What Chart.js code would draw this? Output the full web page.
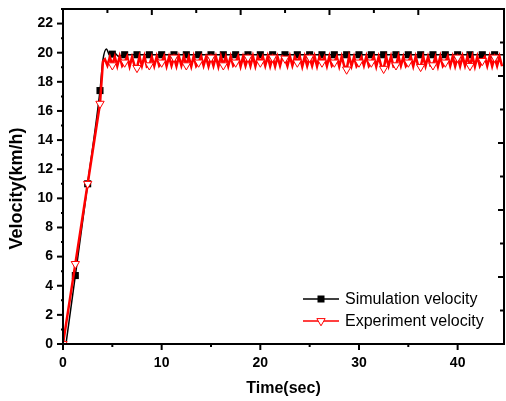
<!DOCTYPE html>
<html>
<head>
<meta charset="utf-8">
<script src="https://cdn.jsdelivr.net/npm/chart.js@4.4.1/dist/chart.umd.min.js"></script>
<style>
  html, body { margin: 0; padding: 0; background: #fff; }
  #wrap { width: 506px; height: 401px; }
</style>
</head>
<body>
<div id="wrap"><canvas id="velocityChart" width="506" height="401"></canvas></div>
<script>
// simulation velocity (km/h) vs time (sec)
const simTime = [0.3, 1.25, 2.5, 3.75, 4.05, 4.4, 4.75, 5, 5.3, 5.6, 6.25, 7.5, 8.75, 10, 11.25, 12.5,
  13.75, 15, 16.25, 17.5, 18.75, 20, 21.25, 22.5, 23.75, 25, 26.25, 27.5, 28.75, 30, 31.25, 32.5,
  33.75, 35, 36.25, 37.5, 38.75, 40, 41.25, 42.5, 43.75, 44.6];
const simVelocity = [0, 4.7, 11.0, 17.4, 19.5, 20.25, 19.8, 19.9, 19.95, 19.75, 19.86, 19.86, 19.86, 19.86, 19.86, 19.86,
  19.86, 19.86, 19.86, 19.86, 19.86, 19.86, 19.86, 19.86, 19.86, 19.86, 19.86, 19.86, 19.86, 19.86, 19.86, 19.86,
  19.86, 19.86, 19.86, 19.86, 19.86, 19.86, 19.86, 19.86, 19.86, 19.86];

// experiment velocity: ramp, then samples every 0.25 s from 4.25 s
const expRampTime = [0, 1.25, 2.5, 3.75, 4.05];
const expRampVelocity = [0, 5.5, 11.0, 16.5, 19.4];
const expStart = 4.25;
const expStep = 0.25;
const expPlateauVelocity = [
  19.55, 19.12, 19.7,
  19.14, 19.72, 19.08, 19.75, 19.1,
  19.33, 19.74, 19.06, 19.7, 19.12,
  18.96, 19.73, 19.1, 19.76, 19.05,
  19.14, 19.7, 19.09, 19.74, 19.11,
  19.33, 19.76, 19.07, 19.72, 19.1,
  19.67, 19.08, 19.75, 19.12, 19.73,
  19.14, 19.71, 19.06, 19.76, 19.09,
  19.33, 19.74, 19.11, 19.7, 19.07,
  19.67, 19.1, 19.73, 19.05, 19.75,
  19.14, 19.72, 19.08, 19.74, 19.12,
  19.33, 19.75, 19.06, 19.71, 19.1,
  19.67, 19.09, 19.76, 19.07, 19.72,
  19.33, 19.73, 19.11, 19.75, 19.08,
  19.67, 19.06, 19.72, 19.1, 19.74,
  19.6, 19.08, 19.76, 19.12, 19.7,
  19.33, 19.74, 19.05, 19.73, 19.09,
  19.67, 19.1, 19.75, 19.07, 19.72,
  19.33, 19.71, 19.08, 19.76, 19.11,
  19.33, 19.73, 19.06, 19.74, 19.1,
  18.85, 19.75, 19.09, 19.72, 19.07,
  19.33, 19.7, 19.12, 19.76, 19.08,
  19.33, 19.74, 19.05, 19.73, 19.1,
  18.9, 19.72, 19.09, 19.75, 19.06,
  19.14, 19.76, 19.11, 19.71, 19.08,
  19.33, 19.73, 19.07, 19.74, 19.1,
  19.03, 19.75, 19.08, 19.72, 19.12,
  19.14, 19.71, 19.06, 19.76, 19.09,
  19.33, 19.74, 19.1, 19.73, 19.07,
  19.67, 19.08, 19.75, 19.11, 19.72,
  19.1, 19.76, 19.06, 19.74, 19.09,
  19.44, 19.72, 19.1, 19.75, 19.08,
  19.67, 19.1, 19.73, 19.07
];

const xTickLabels = [0, 10, 20, 30, 40];
const yTickLabels = [0, 2, 4, 6, 8, 10, 12, 14, 16, 18, 20, 22];
const markerEvery = 1.25;
const seriesLabels = ["Simulation velocity", "Experiment velocity"];
const xTitle = "Time(sec)";
const yTitle = "Velocity(km/h)";

const FONT = "'Liberation Sans', Arial, sans-serif";

function toPoints(xs, ys) {
  return xs.map((x, i) => ({ x: x, y: ys[i] }));
}

const simPoints = toPoints(simTime, simVelocity);
const expPoints = toPoints(expRampTime, expRampVelocity).concat(
  expPlateauVelocity.map((v, i) => ({ x: expStart + i * expStep, y: v }))
);

function onMarker(ctx) {
  const p = ctx.raw;
  if (!p) return false;
  const k = p.x / markerEvery;
  return Math.abs(k - Math.round(k)) < 1e-6;
}

function isStep(v, step) {
  const k = v / step;
  return Math.abs(k - Math.round(k)) < 1e-6;
}

// no extra label padding around the plot box
function noPad(s) {
  s.paddingTop = 0; s.paddingBottom = 0; s.paddingLeft = 0; s.paddingRight = 0;
}

// ticks and frame like the original plot (out on bottom/left, in on top/right)
const framePlugin = {
  id: "frame",
  afterDraw(chart) {
    const ctx = chart.ctx;
    const a = chart.chartArea;
    const { x, y, x2, y2 } = chart.scales;
    ctx.save();
    ctx.strokeStyle = "#000";
    ctx.lineCap = "butt";

    ctx.lineWidth = 2;
    ctx.strokeRect(a.left, a.top, a.right - a.left, a.bottom - a.top);

    x.ticks.forEach(t => {
      if (!isStep(t.value, 5)) return;
      const px = x.getPixelForValue(t.value);
      const len = isStep(t.value, 10) ? 6 : 3;
      ctx.beginPath(); ctx.moveTo(px, a.bottom); ctx.lineTo(px, a.bottom + len); ctx.stroke();
    });
    y.ticks.forEach(t => {
      if (!isStep(t.value, 1)) return;
      const py = y.getPixelForValue(t.value);
      const len = isStep(t.value, 2) ? 6 : 2;
      ctx.beginPath(); ctx.moveTo(a.left, py); ctx.lineTo(a.left - len, py); ctx.stroke();
    });
    x2.ticks.forEach(t => {
      if (t.value <= 0 || !isStep(t.value, 1)) return;
      const px = x2.getPixelForValue(t.value);
      const len = isStep(t.value, 2) ? 6 : 4;
      ctx.beginPath(); ctx.moveTo(px, a.top); ctx.lineTo(px, a.top + len); ctx.stroke();
    });
    y2.ticks.forEach(t => {
      if (t.value <= 0 || t.value >= 10 || !isStep(t.value, 1)) return;
      const py = y2.getPixelForValue(t.value);
      const len = isStep(t.value, 2) ? 6 : 4;
      ctx.beginPath(); ctx.moveTo(a.right, py); ctx.lineTo(a.right - len, py); ctx.stroke();
    });

    // y axis title, sits a bit below the axis centre in the original
    ctx.fillStyle = "#000";
    ctx.font = "bold 18px " + FONT;
    ctx.textAlign = "center";
    ctx.textBaseline = "middle";
    ctx.translate(17, (a.top + a.bottom) / 2 + 12);
    ctx.rotate(-Math.PI / 2);
    ctx.fillText(yTitle, 0, 0);
    ctx.restore();
  }
};

// legend inside the plot, lower right
const insideLegend = {
  id: "insideLegend",
  afterDraw(chart) {
    const ctx = chart.ctx;
    const a = chart.chartArea;
    const lx = a.right - 201;
    const rows = [a.bottom - 45, a.bottom - 23];
    ctx.save();
    chart.data.datasets.forEach((ds, i) => {
      const cy = rows[i];
      ctx.strokeStyle = ds.borderColor;
      ctx.lineWidth = 1.5;
      ctx.beginPath(); ctx.moveTo(lx, cy); ctx.lineTo(lx + 36, cy); ctx.stroke();
      const mx = lx + 18;
      ctx.lineWidth = 1;
      if (ds.pointStyle === "rect") {
        ctx.fillStyle = ds.pointBackgroundColor;
        ctx.fillRect(mx - 3.5, cy - 3.5, 7, 7);
      } else {
        const r = 4.8;
        ctx.beginPath();
        ctx.moveTo(mx, cy + r);
        ctx.lineTo(mx - r * 0.866, cy - r / 2);
        ctx.lineTo(mx + r * 0.866, cy - r / 2);
        ctx.closePath();
        ctx.fillStyle = "#fff";
        ctx.fill();
        ctx.strokeStyle = ds.pointBorderColor;
        ctx.stroke();
      }
      ctx.fillStyle = "#000";
      ctx.font = "16px " + FONT;
      ctx.textBaseline = "middle";
      ctx.textAlign = "left";
      ctx.fillText(ds.label, lx + 42, cy + 1);
    });
    ctx.restore();
  }
};

new Chart(document.getElementById("velocityChart"), {
  type: "line",
  data: {
    datasets: [
      {
        label: seriesLabels[0],
        data: simPoints,
        borderColor: "#000",
        borderWidth: 1.5,
        cubicInterpolationMode: "monotone",
        pointStyle: "rect",
        pointBackgroundColor: "#000",
        pointBorderColor: "#000",
        pointBorderWidth: 0,
        pointRadius: ctx => onMarker(ctx) ? 5 : 0,
        order: 1
      },
      {
        label: seriesLabels[1],
        data: expPoints,
        borderColor: "#ff0000",
        borderWidth: 2.5,
        tension: 0,
        pointStyle: "triangle",
        pointRotation: 180,
        pointBackgroundColor: "#fff",
        pointBorderColor: "#ff0000",
        pointBorderWidth: 1,
        pointRadius: ctx => onMarker(ctx) ? 4.8 : 0,
        order: 0
      }
    ]
  },
  options: {
    responsive: false,
    animation: false,
    layout: { autoPadding: false, padding: { top: 9, right: 2, left: 0, bottom: 0 } },
    plugins: {
      legend: { display: false },
      tooltip: { enabled: false }
    },
    scales: {
      x: {
        type: "linear",
        position: "bottom",
        min: 0,
        max: 44.7,
        grid: { display: false, drawTicks: false },
        border: { display: false },
        afterFit: s => { s.height = 57; noPad(s); },
        ticks: {
          stepSize: 5,
          includeBounds: false,
          autoSkip: false,
          maxRotation: 0,
          padding: 11,
          color: "#000",
          font: { family: FONT, size: 14, weight: "bold" },
          callback: v => xTickLabels.includes(v) ? String(v) : ""
        },
        title: {
          display: true,
          text: xTitle,
          color: "#000",
          font: { family: FONT, size: 16, weight: "bold" },
          padding: { top: 6, bottom: 3 }
        }
      },
      y: {
        type: "linear",
        position: "left",
        min: 0,
        max: 23,
        grid: { display: false, drawTicks: false },
        border: { display: false },
        afterFit: s => { s.width = 63; noPad(s); },
        ticks: {
          stepSize: 1,
          includeBounds: false,
          autoSkip: false,
          padding: 10,
          color: "#000",
          font: { family: FONT, size: 14, weight: "bold" },
          callback: v => yTickLabels.includes(v) ? String(v) : ""
        },
        title: { display: false }
      },
      x2: { type: "linear", position: "top", min: 0, max: 9.93, display: false, afterFit: noPad, ticks: { stepSize: 1 } },
      y2: { type: "linear", position: "right", min: 0, max: 10, display: false, afterFit: noPad, ticks: { stepSize: 1 } }
    }
  },
  plugins: [framePlugin, insideLegend]
});
</script>
</body>
</html>
